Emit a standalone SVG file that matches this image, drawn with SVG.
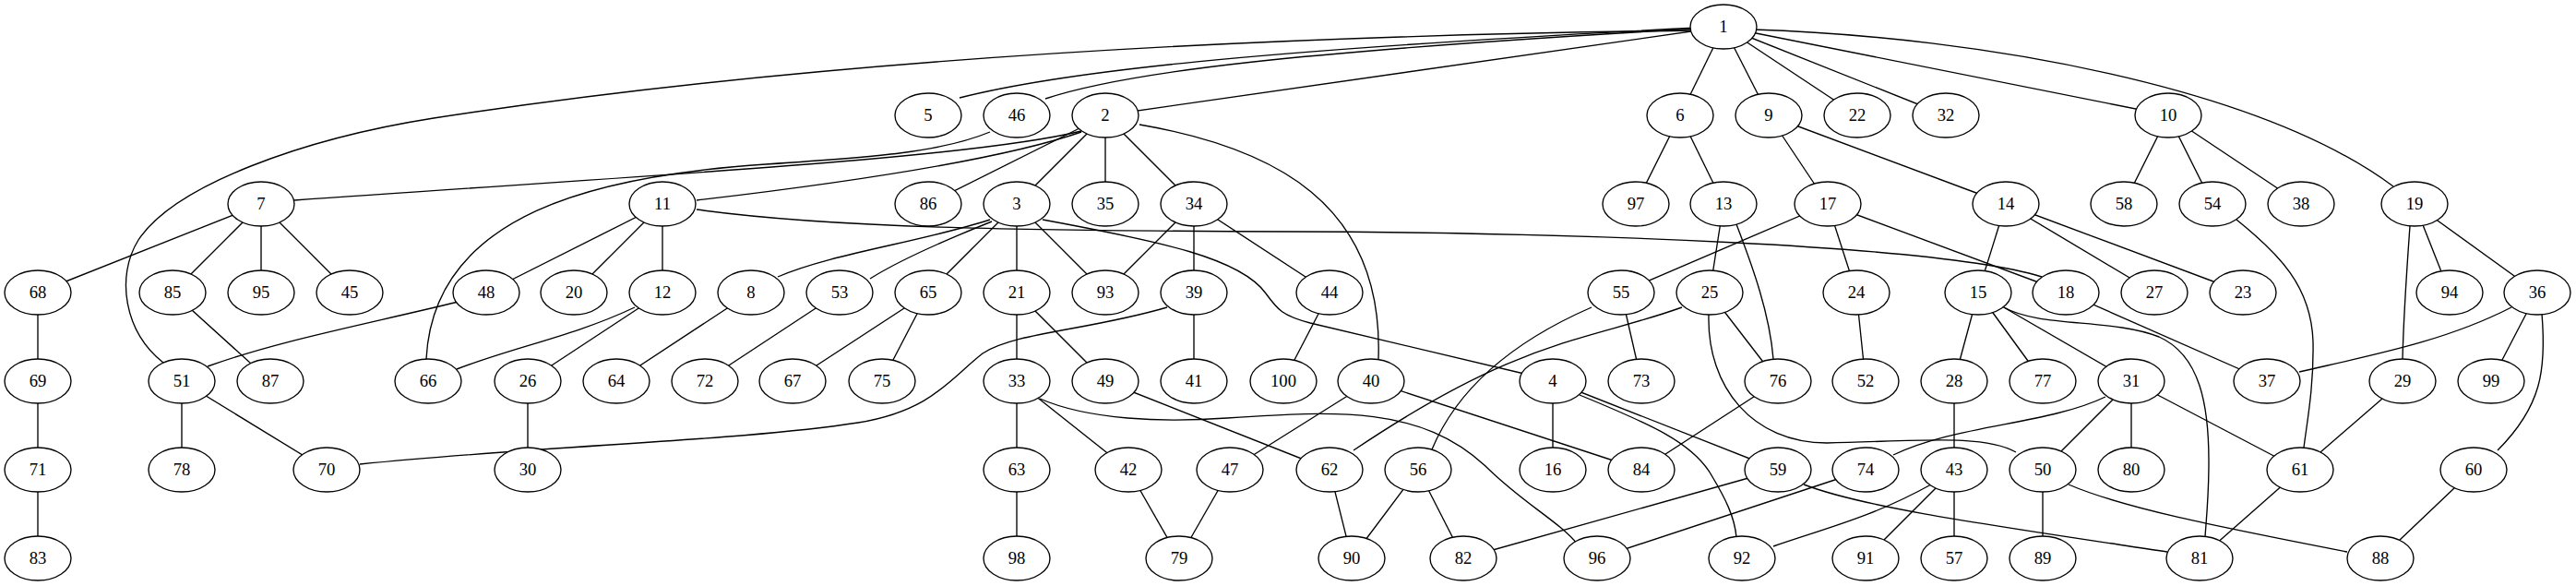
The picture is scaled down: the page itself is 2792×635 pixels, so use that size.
<svg xmlns="http://www.w3.org/2000/svg" width="2792" height="635" viewBox="0 0 2792 635">
<style>
.e path{fill:none;stroke:#000;stroke-width:1.35}
.n ellipse{fill:#fff;stroke:#000;stroke-width:1.35}
.n text{font-family:"Liberation Serif","Times New Roman",serif;font-size:18.67px;text-anchor:middle;fill:#000}
</style>
<rect width="2792" height="635" fill="#fff"/>
<g id="connectors" class="e">
<path d="M1868,29 L1821,125"/>
<path d="M1868,29 L1917,125"/>
<path d="M1868,29 L2013,125"/>
<path d="M1868,29 L2109,125"/>
<path d="M1868,29 L2350,125"/>
<path d="M1198,125 L1868,29"/>
<path d="M1040,106 C1150,78 1350,55 1840,30"/>
<path d="M1133,107 C1220,78 1400,56 1840,31"/>
<path d="M1840,33 C1400,38 900,62 470,128 C330,150 190,200 150,260 C125,300 135,360 177,393"/>
<path d="M1900,32 C2150,40 2450,95 2594,202"/>
<path d="M1172,142 C1050,172 700,190 319,217"/>
<path d="M1172,143 C1080,175 900,200 755,217"/>
<path d="M1235,135 C1380,160 1500,220 1494,389"/>
<path d="M1198,125 L1006,221"/>
<path d="M1198,125 L1102,221"/>
<path d="M1198,125 L1198,221"/>
<path d="M1198,125 L1294,221"/>
<path d="M1073,143 C1020,165 950,170 830,178 C650,190 470,230 462,389"/>
<path d="M1821,125 L1773,221"/>
<path d="M1821,125 L1868,221"/>
<path d="M1917,125 L1981,221"/>
<path d="M1917,125 L2174,221"/>
<path d="M2350,125 L2302,221"/>
<path d="M2350,125 L2398,221"/>
<path d="M2350,125 L2494,221"/>
<path d="M283,221 L41,317"/>
<path d="M283,221 L187,317"/>
<path d="M283,221 L283,317"/>
<path d="M283,221 L379,317"/>
<path d="M718,221 L527,317"/>
<path d="M718,221 L622,317"/>
<path d="M718,221 L718,317"/>
<path d="M755,227 C900,247 1100,250 1400,251 C1700,252 2100,265 2213,300"/>
<path d="M1073,238 C1000,262 900,275 843,300"/>
<path d="M1075,240 C1020,262 970,285 943,302"/>
<path d="M1102,221 L1006,317"/>
<path d="M1102,221 L1102,317"/>
<path d="M1102,221 L1198,317"/>
<path d="M1130,238 C1260,262 1345,280 1372,318 C1385,336 1390,342 1420,350 L1652,405"/>
<path d="M1294,221 L1198,317"/>
<path d="M1294,221 L1294,317"/>
<path d="M1294,221 L1441,317"/>
<path d="M1868,221 L1853,317"/>
<path d="M1882,243 C1900,290 1918,340 1922,389"/>
<path d="M1981,221 L1757,317"/>
<path d="M1981,221 L2012,317"/>
<path d="M1981,221 L2239,317"/>
<path d="M2174,221 L2144,317"/>
<path d="M2174,221 L2335,317"/>
<path d="M2174,221 L2431,317"/>
<path d="M2424,238 C2470,275 2505,310 2507,370 C2508,420 2500,460 2497,485"/>
<path d="M2617,221 L2655,317"/>
<path d="M2617,221 L2750,317"/>
<path d="M2612,245 C2608,300 2605,350 2604,389"/>
<path d="M41,317 L41,413"/>
<path d="M187,317 L293,413"/>
<path d="M497,327 C380,355 300,370 225,397"/>
<path d="M688,333 C620,365 560,375 495,400"/>
<path d="M718,317 L572,413"/>
<path d="M814,317 L668,413"/>
<path d="M910,317 L764,413"/>
<path d="M1006,317 L859,413"/>
<path d="M1006,317 L956,413"/>
<path d="M1102,317 L1102,413"/>
<path d="M1102,317 L1198,413"/>
<path d="M1294,317 L1294,413"/>
<path d="M1265,333 C1180,358 1100,360 1065,383 C1030,410 1010,445 930,458 C800,478 600,482 390,503"/>
<path d="M1441,317 L1391,413"/>
<path d="M1757,317 L1779,413"/>
<path d="M1725,333 C1640,370 1580,420 1552,487"/>
<path d="M1853,317 L1927,413"/>
<path d="M1823,333 C1720,370 1650,365 1467,488"/>
<path d="M1852,341 C1850,420 1900,480 1980,480 C2080,478 2150,470 2185,490"/>
<path d="M2012,317 L2022,413"/>
<path d="M2144,317 L2118,413"/>
<path d="M2144,317 L2214,413"/>
<path d="M2144,317 L2310,413"/>
<path d="M2172,333 C2210,355 2290,345 2340,365 C2385,385 2394,440 2394,500 C2394,540 2391,565 2390,582"/>
<path d="M2239,317 L2457,413"/>
<path d="M2722,333 C2650,370 2570,385 2492,403"/>
<path d="M2750,317 L2700,413"/>
<path d="M2755,340 C2760,400 2755,440 2707,488"/>
<path d="M41,413 L41,509"/>
<path d="M197,413 L197,509"/>
<path d="M197,413 L354,509"/>
<path d="M572,413 L572,509"/>
<path d="M1102,413 L1102,509"/>
<path d="M1102,413 L1223,509"/>
<path d="M1127,432 C1180,455 1260,458 1330,453 C1450,445 1540,440 1610,505 C1650,545 1690,565 1710,590"/>
<path d="M1198,413 L1441,509"/>
<path d="M1486,413 L1333,509"/>
<path d="M1486,413 L1779,509"/>
<path d="M1683,413 L1683,509"/>
<path d="M1683,413 L1927,509"/>
<path d="M1712,428 C1790,460 1835,480 1855,515 C1870,540 1880,560 1882,582"/>
<path d="M1927,413 L1779,509"/>
<path d="M2118,413 L2118,509"/>
<path d="M2282,430 C2220,460 2120,460 2052,493"/>
<path d="M2310,413 L2214,509"/>
<path d="M2310,413 L2310,509"/>
<path d="M2310,413 L2493,509"/>
<path d="M2604,413 L2493,509"/>
<path d="M41,509 L41,605"/>
<path d="M1102,509 L1102,605"/>
<path d="M1223,509 L1278,605"/>
<path d="M1333,509 L1278,605"/>
<path d="M1441,509 L1465,605"/>
<path d="M1537,509 L1465,605"/>
<path d="M1537,509 L1586,605"/>
<path d="M1927,509 L1586,605"/>
<path d="M1955,525 C2020,550 2150,568 2349,598"/>
<path d="M2022,509 L1731,605"/>
<path d="M2093,525 C2030,560 1980,572 1922,592"/>
<path d="M2118,509 L2022,605"/>
<path d="M2118,509 L2118,605"/>
<path d="M2214,509 L2214,605"/>
<path d="M2242,525 C2300,550 2400,570 2544,598"/>
<path d="M2493,509 L2384,605"/>
<path d="M2681,509 L2580,605"/>
</g>
<g class="n">
<g id="node1"><ellipse cx="1868" cy="29" rx="36" ry="24"/><text x="1868" y="35">1</text></g>
<g id="node5"><ellipse cx="1006" cy="125" rx="36" ry="24"/><text x="1006" y="131">5</text></g>
<g id="node46"><ellipse cx="1102" cy="125" rx="36" ry="24"/><text x="1102" y="131">46</text></g>
<g id="node2"><ellipse cx="1198" cy="125" rx="36" ry="24"/><text x="1198" y="131">2</text></g>
<g id="node6"><ellipse cx="1821" cy="125" rx="36" ry="24"/><text x="1821" y="131">6</text></g>
<g id="node9"><ellipse cx="1917" cy="125" rx="36" ry="24"/><text x="1917" y="131">9</text></g>
<g id="node22"><ellipse cx="2013" cy="125" rx="36" ry="24"/><text x="2013" y="131">22</text></g>
<g id="node32"><ellipse cx="2109" cy="125" rx="36" ry="24"/><text x="2109" y="131">32</text></g>
<g id="node10"><ellipse cx="2350" cy="125" rx="36" ry="24"/><text x="2350" y="131">10</text></g>
<g id="node7"><ellipse cx="283" cy="221" rx="36" ry="24"/><text x="283" y="227">7</text></g>
<g id="node11"><ellipse cx="718" cy="221" rx="36" ry="24"/><text x="718" y="227">11</text></g>
<g id="node86"><ellipse cx="1006" cy="221" rx="36" ry="24"/><text x="1006" y="227">86</text></g>
<g id="node3"><ellipse cx="1102" cy="221" rx="36" ry="24"/><text x="1102" y="227">3</text></g>
<g id="node35"><ellipse cx="1198" cy="221" rx="36" ry="24"/><text x="1198" y="227">35</text></g>
<g id="node34"><ellipse cx="1294" cy="221" rx="36" ry="24"/><text x="1294" y="227">34</text></g>
<g id="node97"><ellipse cx="1773" cy="221" rx="36" ry="24"/><text x="1773" y="227">97</text></g>
<g id="node13"><ellipse cx="1868" cy="221" rx="36" ry="24"/><text x="1868" y="227">13</text></g>
<g id="node17"><ellipse cx="1981" cy="221" rx="36" ry="24"/><text x="1981" y="227">17</text></g>
<g id="node14"><ellipse cx="2174" cy="221" rx="36" ry="24"/><text x="2174" y="227">14</text></g>
<g id="node58"><ellipse cx="2302" cy="221" rx="36" ry="24"/><text x="2302" y="227">58</text></g>
<g id="node54"><ellipse cx="2398" cy="221" rx="36" ry="24"/><text x="2398" y="227">54</text></g>
<g id="node38"><ellipse cx="2494" cy="221" rx="36" ry="24"/><text x="2494" y="227">38</text></g>
<g id="node19"><ellipse cx="2617" cy="221" rx="36" ry="24"/><text x="2617" y="227">19</text></g>
<g id="node68"><ellipse cx="41" cy="317" rx="36" ry="24"/><text x="41" y="323">68</text></g>
<g id="node85"><ellipse cx="187" cy="317" rx="36" ry="24"/><text x="187" y="323">85</text></g>
<g id="node95"><ellipse cx="283" cy="317" rx="36" ry="24"/><text x="283" y="323">95</text></g>
<g id="node45"><ellipse cx="379" cy="317" rx="36" ry="24"/><text x="379" y="323">45</text></g>
<g id="node48"><ellipse cx="527" cy="317" rx="36" ry="24"/><text x="527" y="323">48</text></g>
<g id="node20"><ellipse cx="622" cy="317" rx="36" ry="24"/><text x="622" y="323">20</text></g>
<g id="node12"><ellipse cx="718" cy="317" rx="36" ry="24"/><text x="718" y="323">12</text></g>
<g id="node8"><ellipse cx="814" cy="317" rx="36" ry="24"/><text x="814" y="323">8</text></g>
<g id="node53"><ellipse cx="910" cy="317" rx="36" ry="24"/><text x="910" y="323">53</text></g>
<g id="node65"><ellipse cx="1006" cy="317" rx="36" ry="24"/><text x="1006" y="323">65</text></g>
<g id="node21"><ellipse cx="1102" cy="317" rx="36" ry="24"/><text x="1102" y="323">21</text></g>
<g id="node93"><ellipse cx="1198" cy="317" rx="36" ry="24"/><text x="1198" y="323">93</text></g>
<g id="node39"><ellipse cx="1294" cy="317" rx="36" ry="24"/><text x="1294" y="323">39</text></g>
<g id="node44"><ellipse cx="1441" cy="317" rx="36" ry="24"/><text x="1441" y="323">44</text></g>
<g id="node55"><ellipse cx="1757" cy="317" rx="36" ry="24"/><text x="1757" y="323">55</text></g>
<g id="node25"><ellipse cx="1853" cy="317" rx="36" ry="24"/><text x="1853" y="323">25</text></g>
<g id="node24"><ellipse cx="2012" cy="317" rx="36" ry="24"/><text x="2012" y="323">24</text></g>
<g id="node15"><ellipse cx="2144" cy="317" rx="36" ry="24"/><text x="2144" y="323">15</text></g>
<g id="node18"><ellipse cx="2239" cy="317" rx="36" ry="24"/><text x="2239" y="323">18</text></g>
<g id="node27"><ellipse cx="2335" cy="317" rx="36" ry="24"/><text x="2335" y="323">27</text></g>
<g id="node23"><ellipse cx="2431" cy="317" rx="36" ry="24"/><text x="2431" y="323">23</text></g>
<g id="node94"><ellipse cx="2655" cy="317" rx="36" ry="24"/><text x="2655" y="323">94</text></g>
<g id="node36"><ellipse cx="2750" cy="317" rx="36" ry="24"/><text x="2750" y="323">36</text></g>
<g id="node69"><ellipse cx="41" cy="413" rx="36" ry="24"/><text x="41" y="419">69</text></g>
<g id="node51"><ellipse cx="197" cy="413" rx="36" ry="24"/><text x="197" y="419">51</text></g>
<g id="node87"><ellipse cx="293" cy="413" rx="36" ry="24"/><text x="293" y="419">87</text></g>
<g id="node66"><ellipse cx="464" cy="413" rx="36" ry="24"/><text x="464" y="419">66</text></g>
<g id="node26"><ellipse cx="572" cy="413" rx="36" ry="24"/><text x="572" y="419">26</text></g>
<g id="node64"><ellipse cx="668" cy="413" rx="36" ry="24"/><text x="668" y="419">64</text></g>
<g id="node72"><ellipse cx="764" cy="413" rx="36" ry="24"/><text x="764" y="419">72</text></g>
<g id="node67"><ellipse cx="859" cy="413" rx="36" ry="24"/><text x="859" y="419">67</text></g>
<g id="node75"><ellipse cx="956" cy="413" rx="36" ry="24"/><text x="956" y="419">75</text></g>
<g id="node33"><ellipse cx="1102" cy="413" rx="36" ry="24"/><text x="1102" y="419">33</text></g>
<g id="node49"><ellipse cx="1198" cy="413" rx="36" ry="24"/><text x="1198" y="419">49</text></g>
<g id="node41"><ellipse cx="1294" cy="413" rx="36" ry="24"/><text x="1294" y="419">41</text></g>
<g id="node100"><ellipse cx="1391" cy="413" rx="36" ry="24"/><text x="1391" y="419">100</text></g>
<g id="node40"><ellipse cx="1486" cy="413" rx="36" ry="24"/><text x="1486" y="419">40</text></g>
<g id="node4"><ellipse cx="1683" cy="413" rx="36" ry="24"/><text x="1683" y="419">4</text></g>
<g id="node73"><ellipse cx="1779" cy="413" rx="36" ry="24"/><text x="1779" y="419">73</text></g>
<g id="node76"><ellipse cx="1927" cy="413" rx="36" ry="24"/><text x="1927" y="419">76</text></g>
<g id="node52"><ellipse cx="2022" cy="413" rx="36" ry="24"/><text x="2022" y="419">52</text></g>
<g id="node28"><ellipse cx="2118" cy="413" rx="36" ry="24"/><text x="2118" y="419">28</text></g>
<g id="node77"><ellipse cx="2214" cy="413" rx="36" ry="24"/><text x="2214" y="419">77</text></g>
<g id="node31"><ellipse cx="2310" cy="413" rx="36" ry="24"/><text x="2310" y="419">31</text></g>
<g id="node37"><ellipse cx="2457" cy="413" rx="36" ry="24"/><text x="2457" y="419">37</text></g>
<g id="node29"><ellipse cx="2604" cy="413" rx="36" ry="24"/><text x="2604" y="419">29</text></g>
<g id="node99"><ellipse cx="2700" cy="413" rx="36" ry="24"/><text x="2700" y="419">99</text></g>
<g id="node71"><ellipse cx="41" cy="509" rx="36" ry="24"/><text x="41" y="515">71</text></g>
<g id="node78"><ellipse cx="197" cy="509" rx="36" ry="24"/><text x="197" y="515">78</text></g>
<g id="node70"><ellipse cx="354" cy="509" rx="36" ry="24"/><text x="354" y="515">70</text></g>
<g id="node30"><ellipse cx="572" cy="509" rx="36" ry="24"/><text x="572" y="515">30</text></g>
<g id="node63"><ellipse cx="1102" cy="509" rx="36" ry="24"/><text x="1102" y="515">63</text></g>
<g id="node42"><ellipse cx="1223" cy="509" rx="36" ry="24"/><text x="1223" y="515">42</text></g>
<g id="node47"><ellipse cx="1333" cy="509" rx="36" ry="24"/><text x="1333" y="515">47</text></g>
<g id="node62"><ellipse cx="1441" cy="509" rx="36" ry="24"/><text x="1441" y="515">62</text></g>
<g id="node56"><ellipse cx="1537" cy="509" rx="36" ry="24"/><text x="1537" y="515">56</text></g>
<g id="node16"><ellipse cx="1683" cy="509" rx="36" ry="24"/><text x="1683" y="515">16</text></g>
<g id="node84"><ellipse cx="1779" cy="509" rx="36" ry="24"/><text x="1779" y="515">84</text></g>
<g id="node59"><ellipse cx="1927" cy="509" rx="36" ry="24"/><text x="1927" y="515">59</text></g>
<g id="node74"><ellipse cx="2022" cy="509" rx="36" ry="24"/><text x="2022" y="515">74</text></g>
<g id="node43"><ellipse cx="2118" cy="509" rx="36" ry="24"/><text x="2118" y="515">43</text></g>
<g id="node50"><ellipse cx="2214" cy="509" rx="36" ry="24"/><text x="2214" y="515">50</text></g>
<g id="node80"><ellipse cx="2310" cy="509" rx="36" ry="24"/><text x="2310" y="515">80</text></g>
<g id="node61"><ellipse cx="2493" cy="509" rx="36" ry="24"/><text x="2493" y="515">61</text></g>
<g id="node60"><ellipse cx="2681" cy="509" rx="36" ry="24"/><text x="2681" y="515">60</text></g>
<g id="node83"><ellipse cx="41" cy="605" rx="36" ry="24"/><text x="41" y="611">83</text></g>
<g id="node98"><ellipse cx="1102" cy="605" rx="36" ry="24"/><text x="1102" y="611">98</text></g>
<g id="node79"><ellipse cx="1278" cy="605" rx="36" ry="24"/><text x="1278" y="611">79</text></g>
<g id="node90"><ellipse cx="1465" cy="605" rx="36" ry="24"/><text x="1465" y="611">90</text></g>
<g id="node82"><ellipse cx="1586" cy="605" rx="36" ry="24"/><text x="1586" y="611">82</text></g>
<g id="node96"><ellipse cx="1731" cy="605" rx="36" ry="24"/><text x="1731" y="611">96</text></g>
<g id="node92"><ellipse cx="1888" cy="605" rx="36" ry="24"/><text x="1888" y="611">92</text></g>
<g id="node91"><ellipse cx="2022" cy="605" rx="36" ry="24"/><text x="2022" y="611">91</text></g>
<g id="node57"><ellipse cx="2118" cy="605" rx="36" ry="24"/><text x="2118" y="611">57</text></g>
<g id="node89"><ellipse cx="2214" cy="605" rx="36" ry="24"/><text x="2214" y="611">89</text></g>
<g id="node81"><ellipse cx="2384" cy="605" rx="36" ry="24"/><text x="2384" y="611">81</text></g>
<g id="node88"><ellipse cx="2580" cy="605" rx="36" ry="24"/><text x="2580" y="611">88</text></g>
</g>
</svg>
